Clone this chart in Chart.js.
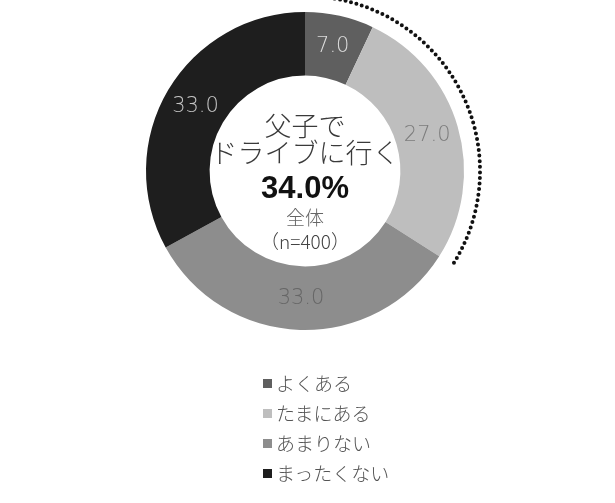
<!DOCTYPE html>
<html>
<head>
<meta charset="utf-8">
<script src="https://cdn.jsdelivr.net/npm/chart.js@4"></script>
<style>
html,body{margin:0;padding:0;background:#fff;}
#wrap{position:relative;width:615px;height:503px;overflow:hidden;}
#c{position:absolute;left:0;top:0;}
#legend{position:absolute;left:263px;top:368px;font-family:"Noto Sans CJK JP","Noto Sans",sans-serif;font-weight:300;font-size:19px;color:#555;}
#legend .row{height:30px;line-height:30px;display:flex;align-items:center;}
#legend .sw{width:9px;height:9px;margin-right:4px;display:inline-block;}
</style>
</head>
<body>
<div id="wrap">
<canvas id="c" width="615" height="503"></canvas>
<div id="legend"></div>
</div>
<script>
const categories = ['よくある', 'たまにある', 'あまりない', 'まったくない'];
const values = [7.0, 27.0, 33.0, 33.0];
const segmentColors = ['#5f5f5f', '#bebebe', '#8d8d8d', '#1e1e1e'];
const valueLabelColors = ['#dcdcdc', '#7c7c7c', '#666666', '#c4c4c4'];
const centerTitle = ['父子で', 'ドライブに行く'];
const centerValue = '34.0%';
const centerSub = ['全体', '（n=400）'];
const highlightCount = 2; // よくある + たまにある

const valueLabels = {
  id: 'valueLabels',
  afterDatasetsDraw(chart) {
    const ctx = chart.ctx;
    const meta = chart.getDatasetMeta(0);
    ctx.save();
    ctx.font = '300 21px "DejaVu Sans", sans-serif';
    ctx.textAlign = 'center';
    ctx.textBaseline = 'middle';
    meta.data.forEach((arc, i) => {
      const p = arc.tooltipPosition();
      ctx.fillStyle = valueLabelColors[i];
      ctx.fillText(values[i].toFixed(1), p.x, p.y);
    });
    ctx.restore();
  }
};

const centerText = {
  id: 'centerText',
  afterDatasetsDraw(chart) {
    const ctx = chart.ctx;
    const arc = chart.getDatasetMeta(0).data[0];
    const cx = arc.x, cy = arc.y;
    ctx.save();
    ctx.textAlign = 'center';
    ctx.textBaseline = 'middle';
    ctx.fillStyle = '#3a3a3a';
    ctx.font = '300 27px "Noto Sans CJK JP", sans-serif';
    ctx.fillText(centerTitle[0], cx, cy - 45);
    ctx.fillText(centerTitle[1], cx, cy - 18);
    ctx.fillStyle = '#111';
    ctx.font = 'bold 31px "Liberation Sans", Arial, sans-serif';
    ctx.fillText(centerValue, cx, cy + 18);
    ctx.fillStyle = '#666';
    ctx.font = '300 19px "Noto Sans CJK JP", sans-serif';
    ctx.fillText(centerSub[0], cx, cy + 47);
    ctx.fillStyle = '#444';
    ctx.fillText(centerSub[1], cx, cy + 71);
    ctx.restore();
  }
};

const dottedArc = {
  id: 'dottedArc',
  afterDatasetsDraw(chart) {
    const ctx = chart.ctx;
    const data = chart.getDatasetMeta(0).data;
    const first = data[0], last = data[highlightCount - 1];
    ctx.save();
    ctx.strokeStyle = '#111';
    ctx.lineWidth = 4;
    ctx.lineCap = 'round';
    ctx.setLineDash([0, 5.6]);
    ctx.beginPath();
    ctx.arc(first.x, first.y, first.outerRadius + 16, first.startAngle + 0.01, last.endAngle);
    ctx.stroke();
    ctx.restore();
  }
};

new Chart(document.getElementById('c'), {
  type: 'doughnut',
  data: {
    labels: categories,
    datasets: [{
      data: values,
      backgroundColor: segmentColors,
      borderWidth: 0,
      hoverOffset: 0
    }]
  },
  options: {
    responsive: false,
    animation: false,
    devicePixelRatio: 1,
    cutout: '60%',
    layout: { padding: { top: 12, bottom: 173, left: 146, right: 151 } },
    plugins: { legend: { display: false }, tooltip: { enabled: false } }
  },
  plugins: [valueLabels, centerText, dottedArc]
});

const lg = document.getElementById('legend');
categories.forEach((name, i) => {
  const row = document.createElement('div');
  row.className = 'row';
  const sw = document.createElement('span');
  sw.className = 'sw';
  sw.style.background = segmentColors[i];
  const t = document.createElement('span');
  t.textContent = name;
  row.appendChild(sw);
  row.appendChild(t);
  lg.appendChild(row);
});
</script>
</body>
</html>
